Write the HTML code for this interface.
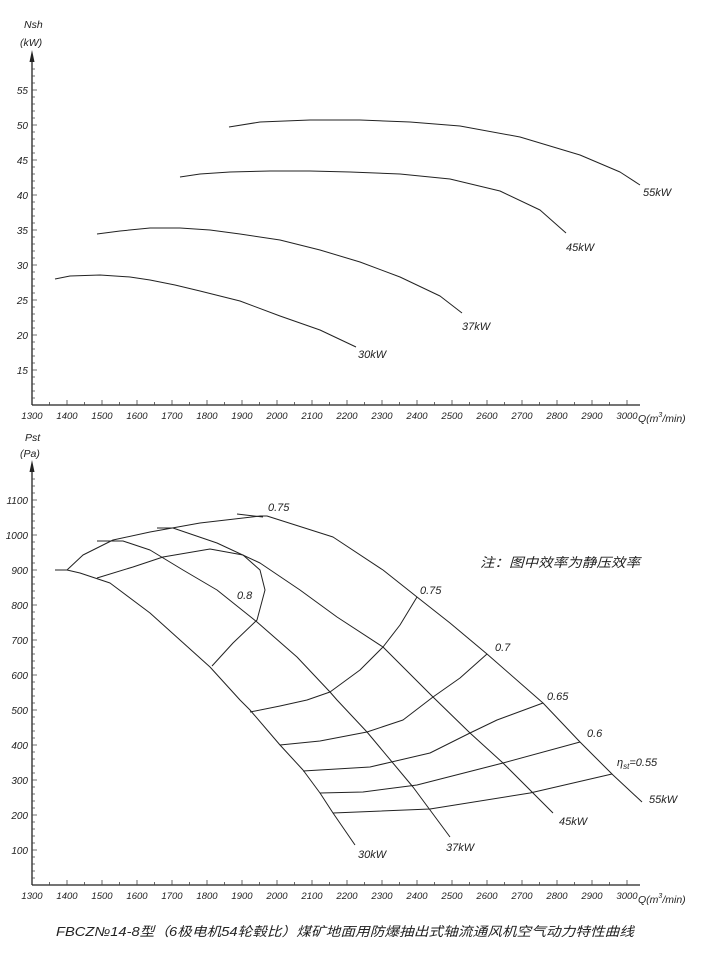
<!DOCTYPE html>
<html><head><meta charset="utf-8"><style>
body{margin:0;background:#fff}
svg{display:block}
text{font-family:"Liberation Sans","Noto Sans CJK SC",sans-serif;font-style:italic;fill:#222}
.c{fill:none;stroke:#222;stroke-width:1;stroke-linejoin:round}
</style></head><body>
<svg width="716" height="962" viewBox="0 0 716 962" xmlns="http://www.w3.org/2000/svg">
<g stroke="#222" stroke-width="1.3">
<line x1="32" y1="405" x2="32" y2="58"/>
<line x1="32" y1="405" x2="640" y2="405"/>
<line x1="32" y1="885" x2="32" y2="468"/>
<line x1="32" y1="885" x2="640" y2="885"/>
</g>
<polygon points="32,50 29.5,62 34.5,62" fill="#222"/>
<polygon points="32,460 29.5,472 34.5,472" fill="#222"/>
<g stroke="#444" stroke-width="0.8">
<path d="M32 398h3M32 391h3M32 384h3M32 377h3M32 370h5M32 363h3M32 356h3M32 349h3M32 342h3M32 335h5M32 328h3M32 321h3M32 314h3M32 307h3M32 300h5M32 293h3M32 286h3M32 279h3M32 272h3M32 265h5M32 258h3M32 251h3M32 244h3M32 237h3M32 230h5M32 223h3M32 216h3M32 209h3M32 202h3M32 195h5M32 188h3M32 181h3M32 174h3M32 167h3M32 160h5M32 153h3M32 146h3M32 139h3M32 132h3M32 125h5M32 118h3M32 111h3M32 104h3M32 97h3M32 90h5M32 83h3M32 76h3M32 69h3"/>
<path d="M32 878h3M32 871h3M32 864h3M32 857h3M32 850h5M32 843h3M32 836h3M32 829h3M32 822h3M32 815h5M32 808h3M32 801h3M32 794h3M32 787h3M32 780h5M32 773h3M32 766h3M32 759h3M32 752h3M32 745h5M32 738h3M32 731h3M32 724h3M32 717h3M32 710h5M32 703h3M32 696h3M32 689h3M32 682h3M32 675h5M32 668h3M32 661h3M32 654h3M32 647h3M32 640h5M32 633h3M32 626h3M32 619h3M32 612h3M32 605h5M32 598h3M32 591h3M32 584h3M32 577h3M32 570h5M32 563h3M32 556h3M32 549h3M32 542h3M32 535h5M32 528h3M32 521h3M32 514h3M32 507h3M32 500h5M32 493h3M32 486h3M32 479h3"/>
</g>
<g stroke="#444" stroke-width="0.8">
<path d="M67 405v-5M102 405v-5M137 405v-5M172 405v-5M207 405v-5M242 405v-5M277 405v-5M312 405v-5M347 405v-5M382 405v-5M417 405v-5M452 405v-5M487 405v-5M522 405v-5M557 405v-5M592 405v-5M627 405v-5M49.5 405v-3M84.5 405v-3M119.5 405v-3M154.5 405v-3M189.5 405v-3M224.5 405v-3M259.5 405v-3M294.5 405v-3M329.5 405v-3M364.5 405v-3M399.5 405v-3M434.5 405v-3M469.5 405v-3M504.5 405v-3M539.5 405v-3M574.5 405v-3M609.5 405v-3"/>
<path transform="translate(0,480)" d="M67 405v-5M102 405v-5M137 405v-5M172 405v-5M207 405v-5M242 405v-5M277 405v-5M312 405v-5M347 405v-5M382 405v-5M417 405v-5M452 405v-5M487 405v-5M522 405v-5M557 405v-5M592 405v-5M627 405v-5M49.5 405v-3M84.5 405v-3M119.5 405v-3M154.5 405v-3M189.5 405v-3M224.5 405v-3M259.5 405v-3M294.5 405v-3M329.5 405v-3M364.5 405v-3M399.5 405v-3M434.5 405v-3M469.5 405v-3M504.5 405v-3M539.5 405v-3M574.5 405v-3M609.5 405v-3"/>
</g>
<g font-size="10" text-anchor="end">
<text x="28" y="94">55</text><text x="28" y="129">50</text><text x="28" y="164">45</text><text x="28" y="199">40</text><text x="28" y="234">35</text><text x="28" y="269">30</text><text x="28" y="304">25</text><text x="28" y="339">20</text><text x="28" y="374">15</text>
<text x="28" y="504">1100</text><text x="28" y="539">1000</text><text x="28" y="574">900</text><text x="28" y="609">800</text><text x="28" y="644">700</text><text x="28" y="679">600</text><text x="28" y="714">500</text><text x="28" y="749">400</text><text x="28" y="784">300</text><text x="28" y="819">200</text><text x="28" y="854">100</text>
</g>
<g font-size="9.5" text-anchor="middle">
<text x="32" y="419">1300</text><text x="67" y="419">1400</text><text x="102" y="419">1500</text><text x="137" y="419">1600</text><text x="172" y="419">1700</text><text x="207" y="419">1800</text><text x="242" y="419">1900</text><text x="277" y="419">2000</text><text x="312" y="419">2100</text><text x="347" y="419">2200</text><text x="382" y="419">2300</text><text x="417" y="419">2400</text><text x="452" y="419">2500</text><text x="487" y="419">2600</text><text x="522" y="419">2700</text><text x="557" y="419">2800</text><text x="592" y="419">2900</text><text x="627" y="419">3000</text>
<text x="32" y="899">1300</text><text x="67" y="899">1400</text><text x="102" y="899">1500</text><text x="137" y="899">1600</text><text x="172" y="899">1700</text><text x="207" y="899">1800</text><text x="242" y="899">1900</text><text x="277" y="899">2000</text><text x="312" y="899">2100</text><text x="347" y="899">2200</text><text x="382" y="899">2300</text><text x="417" y="899">2400</text><text x="452" y="899">2500</text><text x="487" y="899">2600</text><text x="522" y="899">2700</text><text x="557" y="899">2800</text><text x="592" y="899">2900</text><text x="627" y="899">3000</text>
</g>
<g font-size="10.5">
<text x="638" y="422">Q(m<tspan font-size="7" dy="-5">3</tspan><tspan dy="5">/min)</tspan></text>
<text x="638" y="903">Q(m<tspan font-size="7" dy="-5">3</tspan><tspan dy="5">/min)</tspan></text>
<text x="24" y="28">Nsh</text><text x="20" y="46">(kW)</text>
<text x="25" y="441">Pst</text><text x="20" y="457">(Pa)</text>
</g>
<polyline class="c" points="55,279 70,276 100,275 130,277 150,280 175,285 200,291 240,301 280,316 320,330 356,347"/>
<polyline class="c" points="97,234 120,231 150,228 180,228 210,230 240,234 280,240 320,250 360,262 400,277 440,296 462,313"/>
<polyline class="c" points="180,177 200,174 230,172 270,171 310,171 350,172 400,174 450,179 500,191 540,210 566,233"/>
<polyline class="c" points="229,127 260,122 310,120 360,120 410,122 460,126 520,137 580,155 620,172 640,185"/>
<g font-size="11">
<text x="358" y="358">30kW</text><text x="462" y="330">37kW</text><text x="566" y="251">45kW</text><text x="643" y="196">55kW</text>
</g>
<polyline class="c" points="55,570 67,570 80,573 110,583 150,613 180,640 210,667 240,700 250,710 280,745 303,770 320,793 333,813 355,845"/>
<polyline class="c" points="97,541 123,541 150,550 183,570 217,590 257,622 297,657 330,692 337,700 367,732 413,787 450,837"/>
<polyline class="c" points="157,528 173,528 217,543 260,563 300,590 337,617 383,647 433,697 470,733 503,763 553,813"/>
<polyline class="c" points="237,514 263,517"/>
<polyline class="c" points="67,570 83,555 113,540 150,532 200,523 260,516 267,516 333,537 383,570 417,597 450,623 487,654 543,703 580,742 613,775 642,802"/>
<polyline class="c" points="97,578 133,567 163,557 210,549 243,555 260,570 265,590 257,620 233,643 212,666"/>
<polyline class="c" points="417,597 400,625 383,647 360,670 330,692 307,700 280,706 250,712"/>
<polyline class="c" points="487,654 460,678 433,697 403,720 367,732 320,741 280,745"/>
<polyline class="c" points="543,703 497,720 470,733 430,753 370,767 303,771"/>
<polyline class="c" points="580,742 503,763 417,785 363,792 320,793"/>
<polyline class="c" points="612,774 530,793 430,809 333,813"/>
<g font-size="11">
<text x="358" y="858">30kW</text><text x="446" y="851">37kW</text><text x="559" y="825">45kW</text><text x="649" y="803">55kW</text>
<text x="268" y="511">0.75</text><text x="237" y="599">0.8</text><text x="420" y="594">0.75</text><text x="495" y="651">0.7</text>
<text x="547" y="700">0.65</text><text x="587" y="737">0.6</text><text x="617" y="766">η<tspan font-size="8" dy="3">st</tspan><tspan dy="-3">=0.55</tspan></text>
</g>
<text x="480" y="567" font-size="13" font-style="normal" textLength="160" lengthAdjust="spacingAndGlyphs">注：图中效率为静压效率</text>
<text x="56" y="936" font-size="13" textLength="578" lengthAdjust="spacingAndGlyphs">FBCZ№14-8型（6极电机54轮毂比）煤矿地面用防爆抽出式轴流通风机空气动力特性曲线</text>
</svg>
</body></html>
